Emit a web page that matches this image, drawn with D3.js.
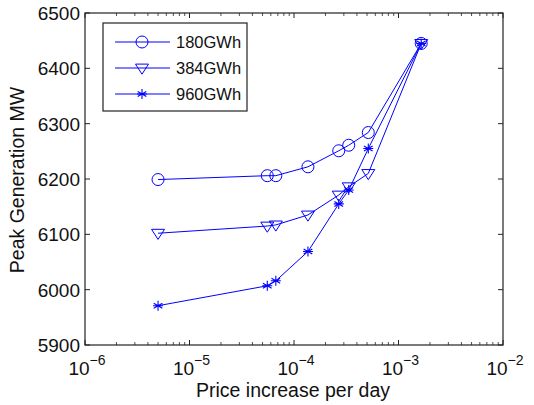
<!DOCTYPE html>
<html><head><meta charset="utf-8">
<script src="https://cdn.jsdelivr.net/npm/d3@7"></script>
<style>body{margin:0;background:#fff}svg{display:block}text{font-family:"Liberation Sans",Arial,Helvetica,sans-serif;fill:#111}</style>
</head><body><svg id="c" width="534" height="405"></svg>
<script>
const xValues180 = [5.0e-6, 5.55e-5, 6.7e-5, 1.36e-4, 2.68e-4, 3.34e-4, 5.14e-4, 1.65e-3];
const yValues180 = [6199, 6206, 6206, 6222, 6251, 6261, 6284, 6445];
const xValues384 = [5.0e-6, 5.55e-5, 6.7e-5, 1.36e-4, 2.68e-4, 3.34e-4, 5.14e-4, 1.65e-3];
const yValues384 = [6102, 6115, 6117, 6135, 6171, 6186, 6210, 6445];
const xValues960 = [5.0e-6, 5.55e-5, 6.7e-5, 1.36e-4, 2.68e-4, 3.34e-4, 5.14e-4, 1.65e-3];
const yValues960 = [5971, 6007, 6016, 6069, 6155, 6180, 6255, 6445];
const seriesNames = ["180GWh", "384GWh", "960GWh"];
const seriesMarkers = ["circle", "triangle", "star"];
const xTickExponents = [-6, -5, -4, -3, -2];
const yTicks = [5900, 6000, 6100, 6200, 6300, 6400, 6500];
const xLabel = "Price increase per day";
const yLabel = "Peak Generation MW";

const series = [
  {name: seriesNames[0], marker: seriesMarkers[0], pts: xValues180.map((x,i)=>[x,yValues180[i]])},
  {name: seriesNames[1], marker: seriesMarkers[1], pts: xValues384.map((x,i)=>[x,yValues384[i]])},
  {name: seriesNames[2], marker: seriesMarkers[2], pts: xValues960.map((x,i)=>[x,yValues960[i]])}
];

const L=85, R=503, T=13, B=345;
const svg = d3.select("#c");
const x = d3.scaleLog().domain([1e-6,1e-2]).range([L,R]);
const y = d3.scaleLinear().domain([5900,6500]).range([B,T]);
const blue = "#0000ff";

const minor = [];
for (let e=-6; e<-2; e++) for (let m=2; m<=9; m++) minor.push(m*Math.pow(10,e));
const g = svg.append("g");
minor.forEach(v=>{
  g.append("line").attr("x1",x(v)).attr("x2",x(v)).attr("y1",B).attr("y2",B-3).attr("stroke","#222").attr("stroke-width",0.8);
  g.append("line").attr("x1",x(v)).attr("x2",x(v)).attr("y1",T).attr("y2",T+3).attr("stroke","#222").attr("stroke-width",0.8);
});
xTickExponents.forEach(e=>{
  const v=Math.pow(10,e);
  g.append("line").attr("x1",x(v)).attr("x2",x(v)).attr("y1",B).attr("y2",B-5).attr("stroke","#222");
  g.append("line").attr("x1",x(v)).attr("x2",x(v)).attr("y1",T).attr("y2",T+5).attr("stroke","#222");
  const t = svg.append("text").attr("x",x(v)+2).attr("y",375).attr("text-anchor","middle").style("font-size","19px");
  t.append("tspan").text("10");
  t.append("tspan").attr("dy",-10).style("font-size","14px").text("\u2212"+Math.abs(e));
});
yTicks.forEach(v=>{
  g.append("line").attr("x1",L).attr("x2",L+5).attr("y1",y(v)).attr("y2",y(v)).attr("stroke","#222");
  g.append("line").attr("x1",R).attr("x2",R-5).attr("y1",y(v)).attr("y2",y(v)).attr("stroke","#222");
  svg.append("text").attr("x",80).attr("y",y(v)+7).attr("text-anchor","end").style("font-size","19px").text(v);
});
svg.append("rect").attr("x",L).attr("y",T).attr("width",R-L).attr("height",B-T).attr("fill","none").attr("stroke","#222").attr("stroke-width",1.2);

function marker(sel, type, cx, cy){
  if(type==="circle"){
    sel.append("circle").attr("cx",cx).attr("cy",cy).attr("r",6).attr("fill","none").attr("stroke",blue).attr("stroke-width",1);
  } else if(type==="triangle"){
    const s=6.5;
    sel.append("path").attr("d",`M${cx-s},${cy-s*0.6}L${cx+s},${cy-s*0.6}L${cx},${cy+s*0.95}Z`).attr("fill","none").attr("stroke",blue).attr("stroke-width",1);
  } else {
    const s=5;
    let d="";
    for(let k=0;k<3;k++){const a=Math.PI/2+k*Math.PI/3; d+=`M${cx+s*Math.cos(a)},${cy+s*Math.sin(a)}L${cx-s*Math.cos(a)},${cy-s*Math.sin(a)}`;}
    d+=`M${cx-s},${cy}L${cx+s},${cy}`;
    sel.append("path").attr("d",d).attr("stroke",blue).attr("stroke-width",1.1).attr("fill","none");
  }
}

const line = d3.line().x(d=>x(d[0])).y(d=>y(d[1]));
series.forEach(s=>{
  svg.append("path").datum(s.pts).attr("d",line).attr("fill","none").attr("stroke",blue).attr("stroke-width",1);
  const mg = svg.append("g");
  s.pts.forEach(p=>marker(mg, s.marker, x(p[0]), y(p[1])));
});

const lg = svg.append("g");
lg.append("rect").attr("x",103).attr("y",23).attr("width",144).attr("height",88).attr("fill","#fff").attr("stroke","#222").attr("stroke-width",1.2);
series.forEach((s,i)=>{
  const ly = 42 + i*26;
  lg.append("line").attr("x1",115).attr("x2",170).attr("y1",ly).attr("y2",ly).attr("stroke",blue).attr("stroke-width",1);
  marker(lg, s.marker, 142, ly);
  lg.append("text").attr("x",176).attr("y",ly+6).style("font-size","16.5px").text(s.name);
});

svg.append("text").attr("x",293).attr("y",397).attr("text-anchor","middle").style("font-size","19.5px").text(xLabel);
svg.append("text").attr("transform","translate(24,180) rotate(-90)").attr("text-anchor","middle").style("font-size","19.5px").text(yLabel);
</script></body></html>
